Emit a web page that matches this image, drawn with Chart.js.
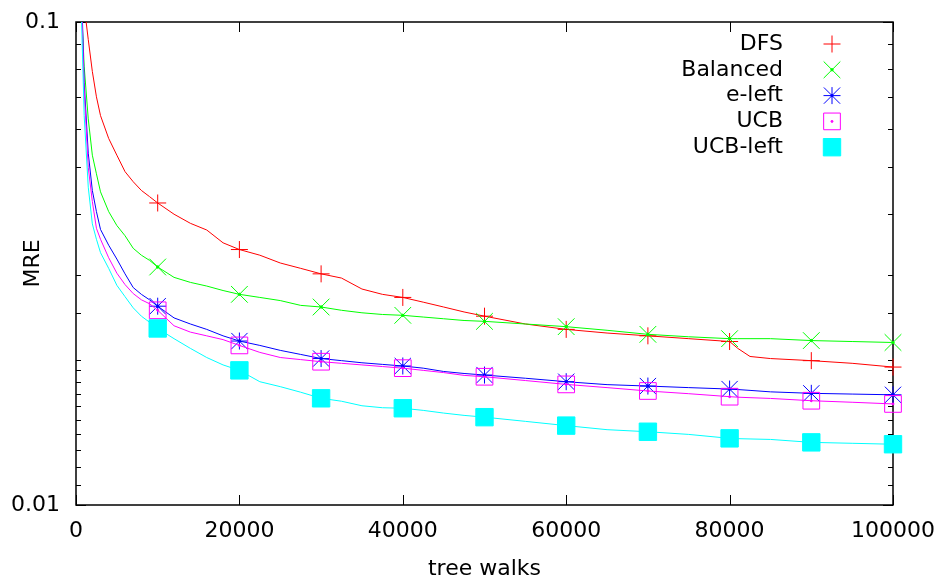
<!DOCTYPE html>
<html><head><meta charset="utf-8">
<script src="https://cdn.jsdelivr.net/npm/chart.js@4/dist/chart.umd.min.js"></script>
<style>html,body{margin:0;padding:0;background:#fff;} #wrap{width:941px;height:583px;position:relative;}</style>
</head><body><div id="wrap"><canvas id="c"></canvas></div>
<script>
const walks = [500,1000,1500,2000,2500,3000,4000,5000,6000,7000,8000,9000,10000,12000,14000,16000,18000,20000,22500,25000,27500,30000,32500,35000,37500,40000,42500,45000,47500,50000,55000,60000,65000,70000,75000,80000,81000,82500,85000,90000,95000,100000];
const dfs = [0.13,0.108,0.092,0.079,0.070,0.064,0.0574,0.053,0.049,0.0467,0.0448,0.0435,0.0422,0.0400,0.0383,0.0371,0.0349,0.0338,0.0329,0.0317,0.0309,0.0301,0.0295,0.0280,0.0273,0.0269,0.0263,0.0257,0.0251,0.0246,0.0237,0.0231,0.0227,0.0224,0.0221,0.0218,0.0211,0.0203,0.0201,0.0199,0.01965,0.0193];
const balanced = [0.125,0.081,0.063,0.053,0.0485,0.0445,0.0405,0.0379,0.0361,0.0340,0.0329,0.0321,0.0311,0.0296,0.0289,0.0284,0.0278,0.0273,0.0269,0.0265,0.0259,0.0257,0.0253,0.0250,0.0248,0.0247,0.0245,0.0243,0.0241,0.0240,0.0237,0.0234,0.0230,0.02256,0.0223,0.0221,0.0221,0.0221,0.0221,0.0219,0.0218,0.0217];
const eLeft = [0.15,0.075,0.0535,0.0448,0.0405,0.0372,0.0345,0.0323,0.0301,0.0282,0.0273,0.0266,0.0258,0.0244,0.0237,0.0231,0.0224,0.02185,0.0214,0.0209,0.0205,0.0201,0.0199,0.0197,0.01955,0.0194,0.0192,0.0189,0.01872,0.01858,0.0183,0.0180,0.01775,0.01763,0.0175,0.01738,0.01734,0.01727,0.01715,0.01703,0.01697,0.01691];
const ucb = [0.14,0.072,0.050,0.0425,0.0374,0.0355,0.0325,0.0302,0.0286,0.0274,0.0266,0.0261,0.0253,0.0235,0.0228,0.0224,0.0220,0.0214,0.0207,0.0202,0.0200,0.0198,0.01965,0.0195,0.01935,0.0192,0.0190,0.0188,0.01855,0.01843,0.0181,0.01777,0.0175,0.01722,0.0170,0.01676,0.01672,0.01668,0.01662,0.01644,0.01632,0.01619];
const ucbLeft = [0.13,0.064,0.0455,0.0382,0.0355,0.0333,0.0309,0.0285,0.0270,0.0256,0.0246,0.0239,0.0232,0.0221,0.0211,0.0202,0.0195,0.0190,0.0180,0.01758,0.01712,0.01663,0.0164,0.01605,0.0159,0.01586,0.0157,0.0155,0.01533,0.0152,0.0149,0.0146,0.01432,0.01418,0.0140,0.01374,0.01372,0.0137,0.01367,0.01348,0.01342,0.01336];
const seriesNames = ['DFS','Balanced','e-left','UCB','UCB-left'];
const yTickLabels = ['0.01','0.1'];
const xTickStep = 20000;
const markerStep = 10000;

const FONT = "'DejaVu Sans', sans-serif";
const seriesData = [dfs, balanced, eLeft, ucb, ucbLeft];
const colors = ['#ff0000','#00ff00','#0000ff','#ff00ff','#00ffff'];
// marker definitions: list of [pointStyle, radius, filled]
const markerDefs = [
  [['cross', 8.5, false]],
  [['crossRot', 11.8, false], ['circle', 1.2, true]],
  [['cross', 8.5, false], ['crossRot', 11.5, false], ['circle', 1.2, true]],
  [['rect', 11.8, false], ['circle', 1.0, true]],
  [['rect', 12.3, true]]
];

const datasets = [];
let order = 100;
seriesData.forEach((vals, s) => {
  datasets.push({
    label: seriesNames[s] + ' line',
    data: walks.map((w, i) => ({x: w, y: vals[i]})),
    borderColor: colors[s], borderWidth: 1, pointRadius: 0, tension: 0, fill: false,
    order: order--
  });
  const mk = walks.map((w, i) => ({x: w, y: vals[i]})).filter(p => p.x >= markerStep && p.x % markerStep === 0);
  markerDefs[s].forEach(([style, r, filled]) => {
    datasets.push({
      label: seriesNames[s],
      data: mk, showLine: false,
      pointStyle: style, pointRadius: r, pointHoverRadius: r,
      pointBorderWidth: 1, pointBorderColor: colors[s],
      pointBackgroundColor: filled ? colors[s] : 'rgba(0,0,0,0)',
      clip: false, order: order--
    });
  });
});

const isDecade = v => Math.abs(Math.log10(v) - Math.round(Math.log10(v))) < 1e-6;
const zeroPad = s => { s.paddingLeft = 0; s.paddingRight = 0; s.paddingTop = 0; s.paddingBottom = 0; };

const framePlugin = {
  id: 'frame',
  beforeDatasetsDraw(chart) {
    const {ctx, chartArea: a, scales: {x, y}} = chart;
    ctx.save();
    ctx.strokeStyle = '#000'; ctx.lineWidth = 1;
    ctx.beginPath();
    y.ticks.forEach(t => {
      const py = Math.round(y.getPixelForValue(t.value)) + 0.5;
      const len = isDecade(t.value) ? 10 : 5;
      ctx.moveTo(a.left, py); ctx.lineTo(a.left + len, py);
      ctx.moveTo(a.right, py); ctx.lineTo(a.right - len, py);
    });
    x.ticks.forEach(t => {
      const px = Math.round(x.getPixelForValue(t.value)) + 0.5;
      ctx.moveTo(px, a.bottom); ctx.lineTo(px, a.bottom - 10);
      ctx.moveTo(px, a.top); ctx.lineTo(px, a.top + 10);
    });
    ctx.stroke();
    ctx.lineWidth = 1.5;
    ctx.strokeRect(a.left, a.top, a.right - a.left, a.bottom - a.top);
    ctx.restore();
  },
  afterDraw(chart) {
    const {ctx} = chart;
    ctx.save();
    ctx.font = '22px ' + FONT;
    ctx.textAlign = 'right'; ctx.textBaseline = 'middle';
    seriesNames.forEach((name, s) => {
      const yc = 44 + s * 25.8;
      ctx.fillStyle = '#000';
      ctx.fillText(name, 783, yc);
      markerDefs[s].forEach(([style, r, filled]) => {
        ctx.strokeStyle = colors[s];
        ctx.fillStyle = filled ? colors[s] : 'rgba(0,0,0,0)';
        ctx.lineWidth = 1;
        Chart.helpers.drawPoint(ctx, {pointStyle: style, radius: r, rotation: 0, borderWidth: 1}, 832, yc);
      });
    });
    ctx.restore();
  }
};

new Chart(document.getElementById('c'), {
  type: 'line',
  data: {datasets},
  options: {
    responsive: true, maintainAspectRatio: false, animation: false,
    events: [],
    layout: {padding: {left: 0, right: 48, top: 22, bottom: 0}},
    plugins: {legend: {display: false}, tooltip: {enabled: false}},
    scales: {
      x: {
        type: 'linear', min: 0, max: 100000,
        ticks: {stepSize: xTickStep, autoSkip: false, maxRotation: 0, padding: 13,
          color: '#000', font: {family: FONT, size: 22},
          callback: v => String(v)},
        grid: {display: false, drawTicks: false},
        border: {display: false},
        title: {display: true, text: 'tree walks', color: '#000', font: {family: FONT, size: 22}, padding: {top: 0, bottom: 1}},
        afterFit: s => { s.height = 78; zeroPad(s); }
      },
      y: {
        type: 'logarithmic', min: 0.01, max: 0.1,
        ticks: {autoSkip: false, padding: 16, color: '#000', font: {family: FONT, size: 22},
          callback: v => {
            if (!isDecade(v)) return '';
            const lbl = yTickLabels.find(l => Math.abs(parseFloat(l) - v) < 1e-9);
            return lbl || '';
          }},
        grid: {display: false, drawTicks: false},
        border: {display: false},
        title: {display: true, text: 'MRE', color: '#000', font: {family: FONT, size: 22}, padding: {top: 20, bottom: 0}},
        afterFit: s => { s.width = 76; zeroPad(s); }
      }
    }
  },
  plugins: [framePlugin]
});
</script>
</body></html>
